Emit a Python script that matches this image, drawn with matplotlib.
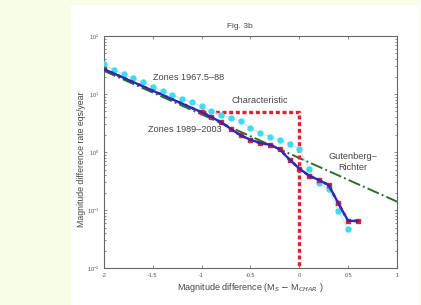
import matplotlib.pyplot as plt
from matplotlib.patches import Rectangle
from matplotlib.ticker import LogLocator, FixedLocator

plt.rcParams['font.family'] = ['Liberation Sans', 'DejaVu Sans']

# Zones 1967.5-88 (cyan dots)
x_old = [-2.0, -1.9, -1.8, -1.7, -1.6, -1.5, -1.4, -1.3, -1.2, -1.1, -1.0,
         -0.9, -0.8, -0.7, -0.6, -0.5, -0.4, -0.3, -0.2, -0.1, 0.0,
         0.1, 0.2, 0.3, 0.4, 0.5]
y_old = [32.7, 26.0, 22.0, 18.6, 15.8, 13.4, 11.1, 9.6, 8.2, 7.2, 6.1,
         5.0, 4.4, 3.9, 3.4, 2.6, 2.1, 1.85, 1.6, 1.36, 1.14,
         0.51, 0.29, 0.23, 0.095, 0.047]

# Zones 1989-2003 (blue line, red markers)
x_new = [-2.0, -1.0, -0.9, -0.8, -0.7, -0.6, -0.5, -0.4, -0.3, -0.2, -0.1,
         0.0, 0.1, 0.2, 0.3, 0.4, 0.5, 0.6]
y_new = [26.8, 4.85, 4.0, 3.25, 2.5, 1.93, 1.63, 1.43, 1.34, 1.11, 0.74,
         0.52, 0.39, 0.33, 0.27, 0.13, 0.065, 0.065]

# Gutenberg-Richter and characteristic models
x_gr = [-2.0, 1.0]
y_gr = [25.1, 0.14]
x_char = [-1.0, 0.0, 0.0]
y_char = [4.85, 4.85, 0.01]

fig = plt.figure(figsize=(4.21, 3.05), dpi=100)
fig.patch.set_facecolor('#f7fde6')
fig.patches.append(Rectangle((71 / 421, 0), 348 / 421, 300 / 305,
                             transform=fig.transFigure, facecolor='white',
                             edgecolor='none', zorder=-10))

ax = fig.add_axes([0.247, 0.121, 0.696, 0.761])
ax.set_zorder(5)
ax.set_yscale('log')

ax.plot(x_gr, y_gr, color='#2a6e2a', linestyle='-.', linewidth=1.4, zorder=2)
ax.plot(x_char, y_char, color='#e0202a', linestyle=(0, (1.2, 0.8)),
        linewidth=2.4, zorder=2)
ax.plot(x_old, y_old, color='#bfeaf5', linewidth=0.8, zorder=3)
ax.plot(x_old, y_old, linestyle='none', marker='o', markersize=3.6,
        color='#3fdcef', zorder=3)
ax.plot(x_new, y_new, color='#e0202a', linestyle=':', linewidth=2.0,
        marker='s', markersize=2.4, zorder=4)
ax.plot(x_new, y_new, color='#2a2ab8', linewidth=1.7, zorder=5)

ax.set_xlim(-2, 1)
ax.set_ylim(0.01, 100)
ax.xaxis.set_major_locator(FixedLocator([-2, -1.5, -1, -0.5, 0, 0.5, 1]))
ax.yaxis.set_major_locator(LogLocator(base=10, numticks=10))
ax.yaxis.set_minor_locator(LogLocator(base=10, subs=range(2, 10), numticks=20))
ax.tick_params(which='both', direction='in', top=True, right=True,
               labelsize=4, colors='#555555', length=2.5, width=0.5)
ax.tick_params(which='minor', length=1.5)
ax.set_xticklabels(['-2', '-1.5', '-1', '-0.5', '0', '0.5', '1'])
for s in ax.spines.values():
    s.set_color('#666666')
    s.set_linewidth(0.8)

tc = '#444444'
fig.text(240 / 421, 1 - 27 / 305, 'Fig. 3b', fontsize=6, color=tc,
         ha='center', va='center')
ax.set_xlabel('Magnitude difference (M$_S$ $-$ M$_{CHAR}$ )', fontsize=6.5,
              color=tc, labelpad=2)
ax.set_ylabel('Magnitude difference rate eqs/year', fontsize=6.3, color=tc)
ax.yaxis.set_label_coords(-0.06, 0.47)

ax.text(-1.5, 19.5, 'Zones 1967.5\u201388', fontsize=6.6, color=tc,
        va='center')
ax.text(-0.69, 7.6, 'Characteristic', fontsize=6.6, color=tc, va='center')
ax.text(-1.55, 2.4, 'Zones 1989\u20132003', fontsize=6.6, color=tc,
        va='center')
ax.text(0.55, 0.68, 'Gutenberg\u2013\nRichter', fontsize=6.6, color=tc,
        ha='center', va='center', linespacing=1.3)

fig.savefig('out.png', dpi=100)
